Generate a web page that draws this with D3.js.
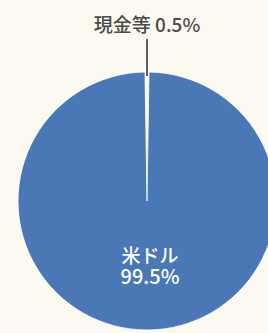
<!DOCTYPE html>
<html>
<head>
<meta charset="utf-8">
<script src="https://cdn.jsdelivr.net/npm/d3@7.9.0/dist/d3.min.js"></script>
<style>
  html, body { margin: 0; padding: 0; background: #fcf9f1; }
  svg { display: block; }
  text { font-family: "Noto Sans CJK JP", "Noto Sans", sans-serif; }
</style>
</head>
<body>
<svg id="chart" width="268" height="333"></svg>
<script>
// --- data ---
const labels = ['現金等', '米ドル'];
const shares = [0.5, 99.5];
const colorsList = ['#ffffff', '#4a77b6'];

const W = 268, H = 333;
const cx = 147, cy = 201, r = 129;

const svg = d3.select('#chart');
svg.append('rect').attr('width', W).attr('height', H).attr('fill', '#fcf9f1');

const data = labels.map((l, i) => ({ label: l, value: shares[i] }));

// small slice centred on 12 o'clock
const offset = -Math.PI * shares[0] / 100;
const pie = d3.pie().value(d => d.value).sort(null)
  .startAngle(offset).endAngle(offset + 2 * Math.PI);
const arc = d3.arc().innerRadius(0).outerRadius(r);
const color = d3.scaleOrdinal().domain(labels).range(colorsList);

const g = svg.append('g').attr('transform', `translate(${cx},${cy})`);

// faint halo around the disc
g.append('circle').attr('r', r + 1).attr('fill', '#ffffff').attr('opacity', 0.7);

const arcs = pie(data);
g.selectAll('path')
  .data(arcs)
  .join('path')
  .attr('d', arc)
  .attr('fill', d => color(d.data.label))
  .attr('stroke', '#ffffff')
  .attr('stroke-width', 0.8);

// leader line for the small slice
const small = arcs[0];
const mid = (small.startAngle + small.endAngle) / 2;
const pt = rad => [Math.sin(mid) * rad, -Math.cos(mid) * rad];
const [x1, y1] = pt(r - 4);
const [x2, y2] = pt(r + 33);
g.append('line')
  .attr('x1', x1).attr('y1', y1).attr('x2', x2).attr('y2', y2)
  .attr('stroke', '#3a3a3a').attr('stroke-width', 1.6);

g.append('text')
  .attr('x', x2).attr('y', y2 - 7)
  .attr('text-anchor', 'middle')
  .attr('font-size', 19)
  .attr('font-weight', 500)
  .attr('fill', '#4a4a4a')
  .text(`${labels[0]} ${shares[0]}%`);

// label for the big slice
g.append('text')
  .attr('x', 3).attr('y', 62)
  .attr('text-anchor', 'middle')
  .attr('font-size', 19)
  .attr('font-weight', 500)
  .attr('fill', '#ffffff')
  .text(labels[1]);
g.append('text')
  .attr('x', 3).attr('y', 83)
  .attr('text-anchor', 'middle')
  .attr('font-size', 20)
  .attr('font-weight', 500)
  .attr('fill', '#ffffff')
  .text(`${shares[1]}%`);
</script>
</body>
</html>
